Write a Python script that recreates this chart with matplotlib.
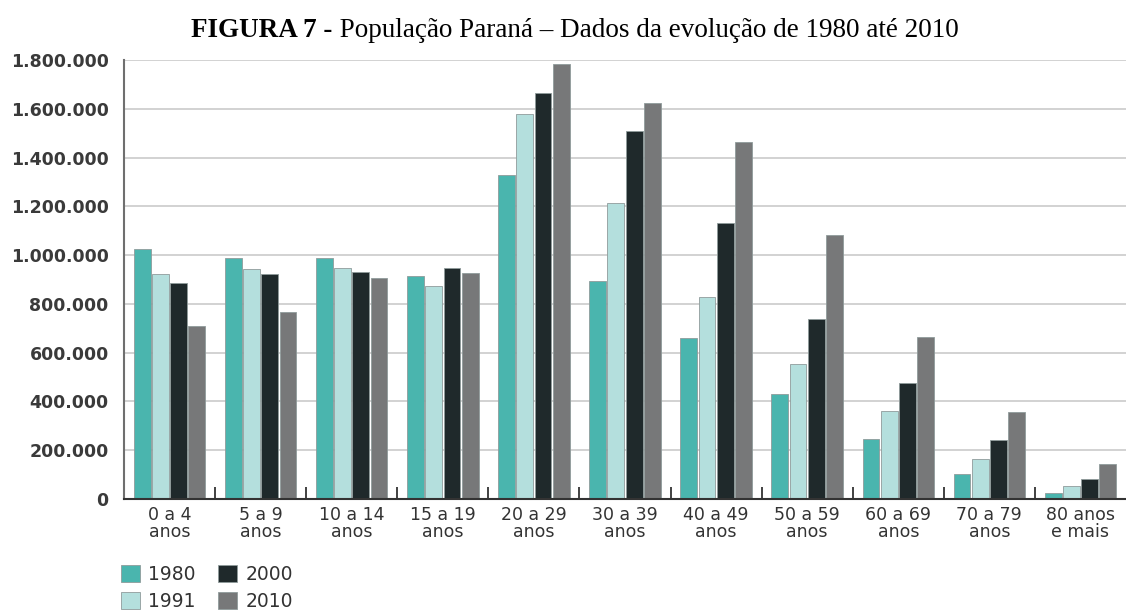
import matplotlib
matplotlib.use("Agg")
import matplotlib.pyplot as plt
import numpy as np

categories = ["0 a 4\nanos", "5 a 9\nanos", "10 a 14\nanos", "15 a 19\nanos",
              "20 a 29\nanos", "30 a 39\nanos", "40 a 49\nanos", "50 a 59\nanos",
              "60 a 69\nanos", "70 a 79\nanos", "80 anos\ne mais"]
years = ["1980", "1991", "2000", "2010"]
pop_1980 = [1024000, 990000, 990000, 916000, 1327000, 893000, 659000, 432000, 247000, 104000, 25000]
pop_1991 = [922000, 943000, 946000, 875000, 1580000, 1214000, 827000, 554000, 360000, 165000, 52000]
pop_2000 = [884000, 921000, 932000, 946000, 1664000, 1508000, 1131000, 738000, 475000, 240000, 82000]
pop_2010 = [711000, 768000, 907000, 927000, 1782000, 1623000, 1464000, 1081000, 666000, 357000, 145000]
yticks = [0, 200000, 400000, 600000, 800000, 1000000, 1200000, 1400000, 1600000, 1800000]
ytick_labels = ["0", "200.000", "400.000", "600.000", "800.000", "1.000.000",
                "1.200.000", "1.400.000", "1.600.000", "1.800.000"]
colors = ["#4ab5ae", "#b4dfdd", "#1f292b", "#777879"]
title_bold = "FIGURA 7 -"
title_rest = " População Paraná – Dados da evolução de 1980 até 2010"

series = [pop_1980, pop_1991, pop_2000, pop_2010]

fig = plt.figure(figsize=(11.26, 6.10), dpi=100)
ax = fig.add_axes([124/1126, 1-499/610, 1-124/1126, (499-60)/610])

x = np.arange(len(categories))
w = 0.185
step = 0.2
for i, (vals, c, lab) in enumerate(zip(series, colors, years)):
    ax.bar(x + (i - 1.5) * step, vals, width=w, color=c, edgecolor="#8f9b9b",
           linewidth=0.6, label=lab, zorder=3)

ax.set_xlim(-0.5, len(categories) - 0.5)
ax.set_ylim(0, 1800000)
ax.set_yticks(yticks)
ax.set_yticklabels(ytick_labels)
ax.yaxis.grid(True, color="#cfcfcf", linewidth=1.3, zorder=0)
ax.set_axisbelow(True)

ax.set_xticks(x)
ax.set_xticklabels(categories, linespacing=0.95)
ax.set_xticks(np.arange(0.5, len(categories) - 1, 1.0), minor=True)
ax.tick_params(axis="x", which="major", length=0, pad=5, labelsize=12.5, labelcolor="#333333")
ax.tick_params(axis="x", which="minor", direction="in", length=8.5, width=1.3, color="#333333")
ax.tick_params(axis="y", length=0, pad=11, labelsize=12.5, labelcolor="#3a3a3a")
for lbl in ax.get_yticklabels():
    lbl.set_fontweight("bold")
for lbl in ax.get_xticklabels():
    lbl.set_fontweight("medium")

for s in ["top", "right"]:
    ax.spines[s].set_visible(False)
ax.spines["left"].set_color("#6f6f6f")
ax.spines["left"].set_linewidth(1.5)
ax.spines["bottom"].set_color("#333333")
ax.spines["bottom"].set_linewidth(1.5)
ax.spines["bottom"].set_zorder(4)

leg = fig.legend(loc="upper left", bbox_to_anchor=(121/1126, 1-565/610), ncol=2,
                 frameon=False, fontsize=13.5, handlelength=1.0, handleheight=1.0,
                 handletextpad=0.45, columnspacing=1.2, labelspacing=0.42,
                 borderpad=0, borderaxespad=0)
for t in leg.get_texts():
    t.set_color("#333333")

# Title: bold part + regular part, centred as a whole
ty = 1 - 37/610
t1 = fig.text(0, ty, title_bold, fontsize=19.5, fontweight="bold",
              family="Liberation Serif", va="baseline", ha="left")
t2 = fig.text(0, ty, title_rest, fontsize=19.5,
              family="Liberation Serif", va="baseline", ha="left")
fig.canvas.draw()
r = fig.canvas.get_renderer()
w1 = t1.get_window_extent(r).width
w2 = t2.get_window_extent(r).width
x0 = 575 - (w1 + w2) / 2
t1.set_x(x0 / fig.bbox.width)
t2.set_x((x0 + w1) / fig.bbox.width)

fig.savefig("out.png", dpi=100)
